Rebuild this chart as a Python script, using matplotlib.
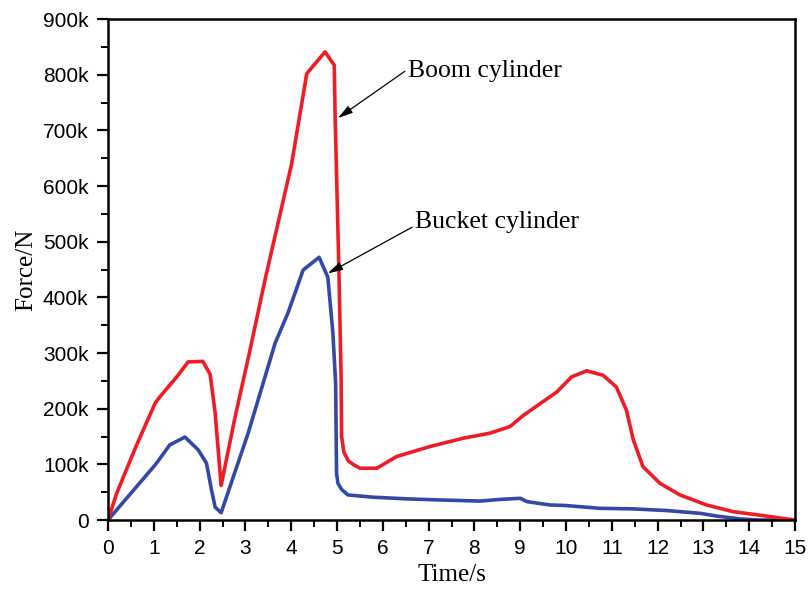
import matplotlib
matplotlib.use("Agg")
from matplotlib import pyplot as plt
from matplotlib.ticker import MultipleLocator, FuncFormatter

# boom cylinder force (red curve)
boom_t = [0.0, 0.19, 0.6, 1.03, 1.13, 1.5, 1.75, 2.07, 2.23, 2.34, 2.47,
          2.77, 3.1, 3.43, 4.01, 4.34, 4.74, 4.94, 4.96, 5.04, 5.09, 5.1,
          5.15, 5.25, 5.39, 5.5, 5.87, 6.3, 7.03, 7.76, 8.34, 8.78, 9.07,
          9.8, 10.12, 10.45, 10.81, 11.1, 11.32, 11.47, 11.68, 12.05, 12.49,
          13.07, 13.65, 14.38, 15.0]
boom_f = [0, 48e3, 130e3, 210e3, 221e3, 257e3, 284e3, 285e3, 262e3, 192e3, 62e3,
          183e3, 305e3, 432e3, 640e3, 802e3, 841e3, 817e3, 723e3, 454e3, 257e3, 150e3,
          122e3, 106e3, 98e3, 93e3, 93e3, 114e3, 132e3, 147e3, 156e3, 168e3, 188e3,
          230e3, 257e3, 268e3, 260e3, 239e3, 197e3, 144e3, 96e3, 66e3, 45e3,
          27e3, 15e3, 7e3, 0]

# bucket cylinder force (blue curve)
bucket_t = [0.0, 1.03, 1.35, 1.68, 1.97, 2.15, 2.26, 2.34, 2.47, 3.06, 3.65,
            3.93, 4.26, 4.61, 4.8, 4.91, 4.97, 4.99, 5.02, 5.1, 5.24, 5.79,
            6.52, 7.25, 8.12, 8.56, 9.0, 9.15, 9.65, 10.0, 10.74, 11.47, 12.2,
            12.93, 13.3, 13.8, 14.2, 15.0]
bucket_f = [0, 99e3, 135e3, 149e3, 126e3, 102e3, 54e3, 23e3, 13e3, 156e3, 318e3,
            372e3, 449e3, 472e3, 436e3, 336e3, 246e3, 84e3, 66e3, 55e3, 45e3, 41e3,
            38e3, 36e3, 34e3, 37e3, 39e3, 33e3, 27e3, 26e3, 21e3, 20e3, 17e3,
            12e3, 7e3, 2e3, 0, 0]

fig = plt.figure(figsize=(8.09, 5.92), dpi=100)
ax = fig.add_axes([0.1335, 0.1216, 0.8492, 0.8463])

ax.plot(bucket_t, bucket_f, color="#3448a6", lw=2.6, solid_joinstyle="round")
ax.plot(boom_t, boom_f, color="#ee1c25", lw=2.6, solid_joinstyle="round")

ax.set_xlim(0, 15)
ax.set_ylim(0, 900e3)
ax.xaxis.set_major_locator(MultipleLocator(1))
ax.xaxis.set_minor_locator(MultipleLocator(0.5))
ax.yaxis.set_major_locator(MultipleLocator(100e3))
ax.yaxis.set_minor_locator(MultipleLocator(50e3))
ax.yaxis.set_major_formatter(FuncFormatter(lambda v, p: "0" if v == 0 else "%dk" % round(v / 1000)))

for s in ax.spines.values():
	s.set_linewidth(1.8)
ax.tick_params(which="major", direction="out", length=8, width=1.6,
	labelsize=15, pad=6)
ax.tick_params(which="minor", direction="out", length=5, width=1.4)
for lab in ax.get_xticklabels() + ax.get_yticklabels():
	lab.set_fontfamily("Liberation Sans")

ax.set_xlabel("Time/s", fontfamily="Liberation Serif", fontsize=18, labelpad=4)
ax.set_ylabel("Force/N", fontfamily="Liberation Serif", fontsize=18, labelpad=4)

# annotations
arrow = dict(arrowstyle="-|>,head_length=0.9,head_width=0.25", color="black",
	lw=0.9, shrinkA=0, shrinkB=0)
ax.annotate("", xy=(5.02, 722e3), xytext=(6.48, 806e3), arrowprops=arrow)
ax.text(6.55, 806e3, "Boom cylinder", fontfamily="Liberation Serif",
	fontsize=18.5, ha="left", va="center")
ax.annotate("", xy=(4.8, 443e3), xytext=(6.64, 526e3), arrowprops=arrow)
ax.text(6.7, 535e3, "Bucket cylinder", fontfamily="Liberation Serif",
	fontsize=18.5, ha="left", va="center")

fig.savefig("out.png", dpi=100)
